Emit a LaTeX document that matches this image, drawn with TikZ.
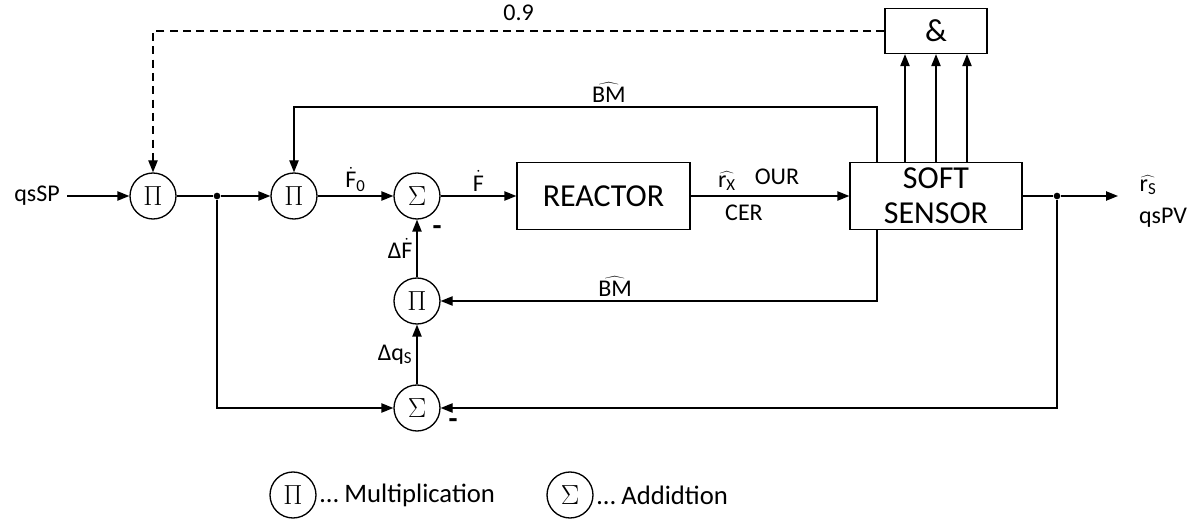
\documentclass[tikz,border=0pt]{standalone}
\usepackage{fontspec}
\setmainfont{Carlito}
\usetikzlibrary{arrows.meta}

\begin{document}
\begin{tikzpicture}[x=0.75pt,y=-0.75pt,line width=1pt,
	>={Triangle[length=9pt,width=7pt]},
	op/.style={draw,circle,minimum size=34.5pt,inner sep=0pt,font=\fontsize{20}{20}\selectfont},
	blk/.style={draw,rectangle,inner sep=0pt,align=center,font=\fontsize{24}{26}\selectfont},
	lbl/.style={inner sep=1pt,font=\fontsize{18}{20}\selectfont},
	minus/.style={inner sep=0pt,font=\fontsize{22}{22}\selectfont\bfseries},
	legtxt/.style={anchor=west,inner sep=2pt,font=\fontsize{20}{22}\selectfont},
	jdot/.style={circle,fill,inner sep=0pt,minimum size=5pt}]
\useasboundingbox (0,0) rectangle (1204,520);
\node[lbl,inner xsep=5pt] (qssp) at (37,196) {qsSP};
\node[op] (pi1) at (153,196) {$\Pi$};
\node[jdot] (j1) at (217,196) {};
\node[op] (pi2) at (294,196) {$\Pi$};
\node[op] (sig1) at (417,196) {$\Sigma$};
\node[blk,minimum width=129.75pt,minimum height=50.25pt] (reactor) at (603.5,196) {REACTOR};
\node[blk,minimum width=129pt,minimum height=50.25pt] (soft) at (936,196) {SOFT\\SENSOR};
\node[blk,minimum width=76.5pt,minimum height=33.75pt] (and) at (936,31) {\&};
\node[op] (pi3) at (417,301) {$\Pi$};
\node[op] (sig2) at (417,408) {$\Sigma$};
\node[jdot] (j2) at (1057,196) {};
\coordinate (out) at (1118,196);
\coordinate (bmt) at (877,107);
\coordinate (bmb) at (877,301);
% signal texts
\node[lbl] (rx) at (727,181) {$\widehat{\mbox{r\textsubscript{X}}}$};
\node[lbl] (our) at (777,177) {OUR};
\node[lbl] (cer) at (744,213) {CER};
\node[lbl] (rs) at (1148,185) {$\widehat{\mbox{r\textsubscript{S}}}$};
\node[lbl] (qspv) at (1163,218) {qsPV};
\node[minus] (m1) at (437,231) {-};
\node[minus] (m2) at (453,424) {-};

\draw[->] (qssp) -- (pi1);
\draw (pi1) -- (j1);
\draw[->] (j1) -- (pi2);
\draw[->] (pi2) -- node[lbl,above=2pt]{$\dot{\mbox{F}}$\textsubscript{0}} (sig1);
\draw[->] (sig1) -- node[lbl,above=2pt]{$\dot{\mbox{F}}$} (reactor);
\draw[->] (reactor) -- (soft);
\draw (soft) -- (j2);
\draw[->] (j2) -- (out);
\foreach \dx in {-31,0,31}
	\draw[->] ([xshift=\dx*0.75pt]soft.north) -- ([xshift=\dx*0.75pt]and.south);
\draw[->,dash pattern=on 6pt off 4pt] (and.west) -| node[lbl,pos=0.25,above=6pt]{0.9} (pi1.north);
\draw[->] (soft.north -| bmt) -- (bmt) -| node[lbl,pos=0.23,above=2pt]{$\widehat{\mbox{BM}}$} (pi2.north);
\draw[->] (soft.south -| bmb) |- node[lbl,pos=0.8,above=2pt]{$\widehat{\mbox{BM}}$} (pi3);
\draw[->] (pi3) -- node[lbl,left=2pt]{Δ$\dot{\mbox{F}}$} (sig1);
\draw[->] (sig2) -- node[lbl,left=2pt]{Δq\textsubscript{S}} (pi3);
\draw[->] (j1) |- (sig2);
\draw[->] (j2) |- (sig2);

% legend
\node[op] (legpi) at (293,495) {$\Pi$};
\node[legtxt] (legpitxt) at (legpi.east) {… Multiplication};
\node[op] (legsig) at (570,495) {$\Sigma$};
\node[legtxt] (legsigtxt) at (legsig.east) {… Addidtion};
\end{tikzpicture}
\end{document}
